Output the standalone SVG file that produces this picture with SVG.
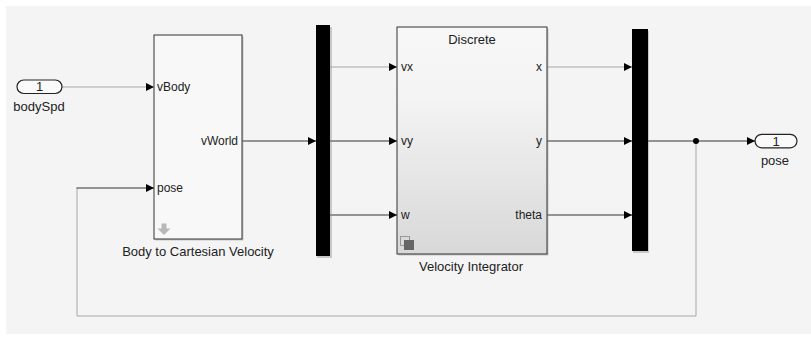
<svg xmlns="http://www.w3.org/2000/svg" width="811" height="338" viewBox="0 0 811 338">
  <defs>
    <style>
      text { font-family: "Liberation Sans", Arial, sans-serif; fill: #222; }
      .port { font-size: 12px; }
      .name { font-size: 13px; }
      .blk { stroke: #333; stroke-width: 1; }
      .shadow { fill: #9a9a9a; opacity: 0.5; }
      .sig { fill: none; stroke: #333; stroke-width: 1; }
      .sig-lt { fill: none; stroke: #a8a8a8; stroke-width: 1; }
      .mux { fill: #000; }
      .pill { fill: #fafafa; stroke: #222; stroke-width: 1.2; }
    </style>
    <marker id="arrow" viewBox="0 0 8 8" refX="8" refY="4" markerWidth="8" markerHeight="8" markerUnits="userSpaceOnUse" orient="auto">
      <path d="M0,0 L8,4 L0,8 Z" fill="#000"/>
    </marker>
    <linearGradient id="integFill" x1="0" y1="0" x2="0" y2="1">
      <stop offset="0" stop-color="#f7f7f7"/>
      <stop offset="0.3" stop-color="#f4f4f4"/>
      <stop offset="1" stop-color="#d8d8d8"/>
    </linearGradient>
  </defs>

  <!-- canvas -->
  <rect x="0" y="0" width="811" height="338" fill="#ffffff"/>
  <rect x="6" y="6" width="805" height="328" fill="#f4f4f4"/>

  <!-- signal lines -->
  <g id="connectors">
    <line class="sig-lt" x1="62" y1="87" x2="154" y2="87" marker-end="url(#arrow)"/>
    <line class="sig" x1="242" y1="141" x2="316" y2="141" marker-end="url(#arrow)"/>
    <line class="sig-lt" x1="330" y1="67" x2="397" y2="67" marker-end="url(#arrow)"/>
    <line class="sig" x1="330" y1="141" x2="397" y2="141" marker-end="url(#arrow)"/>
    <line class="sig" x1="330" y1="215" x2="397" y2="215" marker-end="url(#arrow)"/>
    <line class="sig-lt" x1="547" y1="67" x2="632" y2="67" marker-end="url(#arrow)"/>
    <line class="sig" x1="547" y1="141" x2="632" y2="141" marker-end="url(#arrow)"/>
    <line class="sig" x1="547" y1="215" x2="632" y2="215" marker-end="url(#arrow)"/>
    <line class="sig" x1="648" y1="141" x2="755" y2="141" marker-end="url(#arrow)"/>
    <!-- feedback of pose -->
    <polyline class="sig-lt" points="696,141 696,316 77,316 77,188"/>
    <line class="sig" x1="76.5" y1="188" x2="154" y2="188" marker-end="url(#arrow)"/>
    <circle cx="696" cy="141" r="3" fill="#000"/>
  </g>

  <!-- inport -->
  <g id="in-bodySpd">
    <rect class="pill" x="17" y="80" width="45" height="13.5" rx="6.75"/>
    <text class="name" x="39.5" y="91.3" text-anchor="middle">1</text>
    <text class="name" x="39" y="111" text-anchor="middle">bodySpd</text>
  </g>

  <!-- body to cartesian velocity -->
  <g id="body2cart">
    <rect class="shadow" x="155.5" y="36.5" width="88" height="204"/>
    <rect class="blk" x="154" y="35" width="88" height="204" fill="#f8f8f8"/>
    <text class="port" x="157" y="91">vBody</text>
    <text class="port" x="157" y="192">pose</text>
    <text class="port" x="238" y="145" text-anchor="end">vWorld</text>
    <path d="M161.5,223.5 h5 v5 h4 l-6.5,6.5 l-6.5,-6.5 h4 Z" fill="#b8b8b8"/>
    <text class="name" x="198" y="256" text-anchor="middle">Body to Cartesian Velocity</text>
  </g>

  <!-- mux 1 -->
  <g id="mux1">
    <rect x="317" y="27" width="15" height="231" fill="#888" opacity="0.4"/>
    <rect class="mux" x="316" y="25" width="14" height="231"/>
  </g>

  <!-- velocity integrator -->
  <g id="velocity-integrator">
    <rect class="shadow" x="398.5" y="28.5" width="150" height="227"/>
    <rect class="blk" x="397" y="27" width="150" height="227" fill="url(#integFill)"/>
    <text class="name" x="472" y="44" text-anchor="middle">Discrete</text>
    <text class="port" x="401" y="71">vx</text>
    <text class="port" x="401" y="145">vy</text>
    <text class="port" x="401" y="219">w</text>
    <text class="port" x="542" y="71" text-anchor="end">x</text>
    <text class="port" x="542" y="145" text-anchor="end">y</text>
    <text class="port" x="542" y="219" text-anchor="end">theta</text>
    <rect x="400.5" y="236.5" width="9" height="9" fill="none" stroke="#999" stroke-width="1"/>
    <rect x="404" y="240" width="10" height="10" fill="#666"/>
    <text class="name" x="471" y="271" text-anchor="middle">Velocity Integrator</text>
  </g>

  <!-- mux 2 -->
  <g id="mux2">
    <rect x="633" y="31" width="16" height="222" fill="#888" opacity="0.4"/>
    <rect class="mux" x="632" y="29" width="16" height="222"/>
  </g>

  <!-- outport -->
  <g id="out-pose">
    <rect class="pill" x="755" y="134.3" width="42" height="13.5" rx="6.75"/>
    <text class="name" x="776" y="145.6" text-anchor="middle">1</text>
    <text class="name" x="775" y="165" text-anchor="middle">pose</text>
  </g>
</svg>
